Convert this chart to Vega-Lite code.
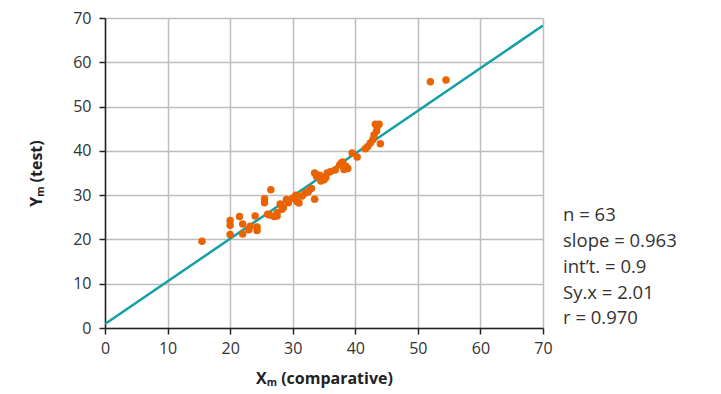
{
  "$schema": "https://vega.github.io/schema/vega-lite/v6.json",
  "width": 438,
  "height": 310,
  "autosize": {"type": "none"},
  "padding": {"left": 105, "top": 18, "right": 178, "bottom": 66},
  "background": "white",
  "config": {
    "view": {"stroke": null},
    "font": "Open Sans",
    "axis": {
      "labelFont": "Open Sans",
      "labelFontSize": 16,
      "labelColor": "#333333",
      "labelFlush": false,
      "titleFont": "Open Sans",
      "titleFontSize": 16,
      "titleFontWeight": "bold",
      "titleColor": "#222222",
      "gridColor": "#bdbdbd",
      "gridWidth": 1.5,
      "domainColor": "#222222",
      "domainWidth": 1.5,
      "tickColor": "#222222",
      "tickWidth": 1.5,
      "tickSize": 6
    }
  },
  "datasets": {
    "points": [
      {"x": 15.5, "y": 19.6}, {"x": 20.0, "y": 24.3}, {"x": 20.0, "y": 23.2}, {"x": 20.0, "y": 21.1},
      {"x": 21.5, "y": 25.2}, {"x": 22.0, "y": 23.5}, {"x": 22.0, "y": 21.2}, {"x": 23.0, "y": 22.2},
      {"x": 23.2, "y": 23.0}, {"x": 24.0, "y": 25.3}, {"x": 24.3, "y": 22.8}, {"x": 24.3, "y": 22.0},
      {"x": 25.5, "y": 29.2}, {"x": 25.5, "y": 28.3}, {"x": 26.0, "y": 25.7}, {"x": 26.5, "y": 31.2},
      {"x": 27.0, "y": 25.2}, {"x": 27.5, "y": 26.0}, {"x": 27.5, "y": 25.3}, {"x": 28.0, "y": 28.0},
      {"x": 28.3, "y": 26.8}, {"x": 28.5, "y": 27.2}, {"x": 29.0, "y": 29.0}, {"x": 29.3, "y": 28.3},
      {"x": 30.5, "y": 30.0}, {"x": 30.7, "y": 28.5}, {"x": 31.0, "y": 28.2}, {"x": 31.5, "y": 29.8},
      {"x": 32.0, "y": 30.5}, {"x": 32.5, "y": 30.8}, {"x": 33.0, "y": 31.5}, {"x": 33.5, "y": 29.1},
      {"x": 33.5, "y": 35.0}, {"x": 33.8, "y": 34.2}, {"x": 34.3, "y": 34.5}, {"x": 35.0, "y": 33.5},
      {"x": 35.3, "y": 34.0}, {"x": 35.5, "y": 35.0}, {"x": 36.0, "y": 35.3}, {"x": 36.8, "y": 35.7},
      {"x": 37.5, "y": 36.8}, {"x": 37.8, "y": 37.3}, {"x": 38.0, "y": 37.5}, {"x": 38.2, "y": 35.8},
      {"x": 38.5, "y": 36.5}, {"x": 38.8, "y": 36.0}, {"x": 39.5, "y": 39.5}, {"x": 40.3, "y": 38.6},
      {"x": 41.6, "y": 40.5}, {"x": 42.0, "y": 41.0}, {"x": 42.4, "y": 41.8}, {"x": 42.8, "y": 42.5},
      {"x": 43.0, "y": 43.6}, {"x": 43.2, "y": 46.0}, {"x": 43.5, "y": 45.5}, {"x": 43.8, "y": 46.0},
      {"x": 44.0, "y": 41.6}, {"x": 43.4, "y": 44.5}, {"x": 52.0, "y": 55.6}, {"x": 54.5, "y": 56.0},
      {"x": 26.3, "y": 25.5}, {"x": 30.0, "y": 29.3}, {"x": 34.5, "y": 33.2}
    ],
    "fit": [{"x": 0, "y": 0.9}, {"x": 70, "y": 68.3}],
    "stats": [
      {"x": 73.2, "y": 25.5, "label": "n = 63"},
      {"x": 73.2, "y": 19.6, "label": "slope = 0.963"},
      {"x": 73.2, "y": 13.8, "label": "int’t. = 0.9"},
      {"x": 73.2, "y": 8.0, "label": "Sy.x = 2.01"},
      {"x": 73.2, "y": 2.2, "label": "r = 0.970"}
    ]
  },
  "layer": [
    {
      "data": {"name": "fit"},
      "mark": {"type": "line", "color": "#14A0A5", "strokeWidth": 2.5, "clip": true},
      "encoding": {
        "x": {"field": "x", "type": "quantitative", "scale": {"domain": [0, 70], "nice": false},
              "axis": {"values": [0, 10, 20, 30, 40, 50, 60, 70], "title": "Xₘ (comparative)", "titlePadding": 14, "labelPadding": 6}},
        "y": {"field": "y", "type": "quantitative", "scale": {"domain": [0, 70], "nice": false},
              "axis": {"values": [0, 10, 20, 30, 40, 50, 60, 70], "title": "Yₘ (test)", "titlePadding": 28, "labelPadding": 8}}
      }
    },
    {
      "data": {"name": "points"},
      "mark": {"type": "circle", "color": "#EB6300", "opacity": 1, "size": 56},
      "encoding": {
        "x": {"field": "x", "type": "quantitative"},
        "y": {"field": "y", "type": "quantitative"}
      }
    },
    {
      "data": {"name": "stats"},
      "mark": {"type": "text", "align": "left", "baseline": "middle", "fontSize": 18.5, "color": "#333333", "clip": false, "font": "Open Sans"},
      "encoding": {
        "x": {"field": "x", "type": "quantitative"},
        "y": {"field": "y", "type": "quantitative"},
        "text": {"field": "label"}
      }
    }
  ]
}
